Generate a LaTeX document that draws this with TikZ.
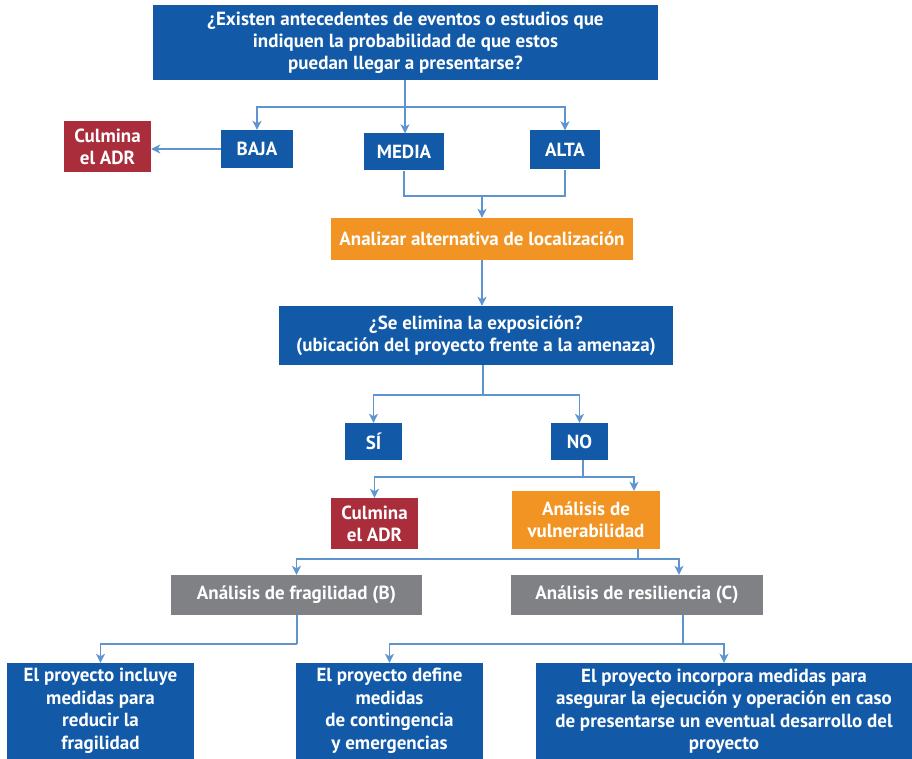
\documentclass[tikz,border=0pt]{standalone}
\usepackage{fontspec}
\setmainfont{PT Sans}[BoldFont={* Bold}]
\usetikzlibrary{arrows.meta,calc}
\definecolor{cblue}{HTML}{125AA8}
\definecolor{cred}{HTML}{A92D3A}
\definecolor{corange}{HTML}{F29423}
\definecolor{cgray}{HTML}{808184}
\definecolor{cline}{HTML}{5E95D1}
\tikzset{
  box/.style={fill=#1, text=white, inner sep=0pt, align=center,
    font=\bfseries\fontsize{19}{22}\selectfont},
  bigbox/.style={box=#1, font=\bfseries\fontsize{19}{22.5}\selectfont},
  conn/.style={draw=cline, line width=1.5pt},
  arr/.style={conn, -{Stealth[length=9pt,width=9pt,inset=2.5pt]}},
}
\begin{document}
\begin{tikzpicture}[x=1pt,y=-1pt]
\useasboundingbox (0,0) rectangle (912,759);
\node[box=cblue, minimum width=505pt, minimum height=75pt] (top) at (405.5,42.5)
  {¿Existen antecedentes de eventos o estudios que\\indiquen la probabilidad de que estos\\puedan llegar a presentarse?};
\node[box=cred, minimum width=87pt, minimum height=51pt] (culm1) at (107.5,146.5) {Culmina\\el ADR};
\node[box=cblue, minimum width=72pt, minimum height=38pt] (baja) at (257,149) {BAJA};
\node[box=cblue, minimum width=80pt, minimum height=37pt] (media) at (404,152) {MEDIA};
\node[box=cblue, minimum width=70pt, minimum height=39pt] (alta) at (565,150) {ALTA};
\node[box=corange, minimum width=302pt, minimum height=42pt] (loc) at (482,239) {Analizar alternativa de localización};
\node[box=cblue, minimum width=394pt, minimum height=59pt] (expo) at (476,335.5) {¿Se elimina la exposición?\\(ubicación del proyecto frente a la amenaza)};
\node[box=cblue, minimum width=57pt, minimum height=37pt] (si) at (373.5,441.5) {SÍ};
\node[box=cblue, minimum width=57pt, minimum height=37pt] (no) at (579.5,441.5) {NO};
\node[box=cred, minimum width=87pt, minimum height=51pt] (culm2) at (374.5,523.5) {Culmina\\el ADR};
\node[box=corange, minimum width=148pt, minimum height=58pt] (vul) at (586,520) {Análisis de\\vulnerabilidad};
\node[box=cgray, minimum width=251pt, minimum height=40pt] (frag) at (296.5,595) {Análisis de fragilidad (B)};
\node[box=cgray, minimum width=252pt, minimum height=40pt] (res) at (637,595) {Análisis de resiliencia (C)};
\node[bigbox=cblue, minimum width=187pt, minimum height=96pt] (b1) at (100.5,711) {El proyecto incluye\\medidas para\\reducir la\\fragilidad};
\node[bigbox=cblue, minimum width=187pt, minimum height=96pt] (b2) at (389.5,711) {El proyecto define\\medidas\\de contingencia\\y emergencias};
\node[bigbox=cblue, minimum width=376pt, minimum height=96pt] (b3) at (724,711) {El proyecto incorpora medidas para\\asegurar la ejecución y operación en caso\\de presentarse un eventual desarrollo del\\proyecto};
% connectors
\coordinate (j1) at (405,107);
\draw[conn] (top.south -| j1) -- (j1);
\draw[arr] (j1) -| (baja.north);
\draw[arr] (j1) -| (alta.north);
\draw[arr] (j1) -- (j1 |- media.north);
\draw[arr] (baja.west) -- (culm1.east |- baja.west);
\coordinate (j2) at (482,196);
\draw[conn] (media.south) |- (j2) -| (alta.south);
\draw[arr] (j2) -- (loc.north);
\draw[arr] (loc.south) -- (loc.south |- expo.north);
\coordinate (j3) at (483,395);
\draw[conn] (expo.south -| j3) -- (j3);
\draw[arr] (j3) -| (si.north);
\draw[arr] (j3) -| (no.north);
\coordinate (j4) at (583,477);
\draw[conn] (no.south -| j4) -- (j4);
\draw[arr] (j4) -| (culm2.north);
\draw[arr] (j4) -| ($(vul.north)+(48,0)$);
\coordinate (j5) at (638,559);
\draw[conn] (vul.south -| j5) -- (j5);
\draw[arr] (j5) -| (frag.north);
\draw[arr] (j5) -| ($(res.north)+(42,0)$);
\coordinate (j6) at (297,644);
\draw[conn] (frag.south -| j6) -- (j6);
\draw[arr] (j6) -| (b1.north);
\coordinate (j7) at (683,644);
\draw[conn] (res.south -| j7) -- (j7);
\draw[arr] (j7) -| (b2.north);
\draw[arr] (j7) -| (b3.north);
\end{tikzpicture}
\end{document}
